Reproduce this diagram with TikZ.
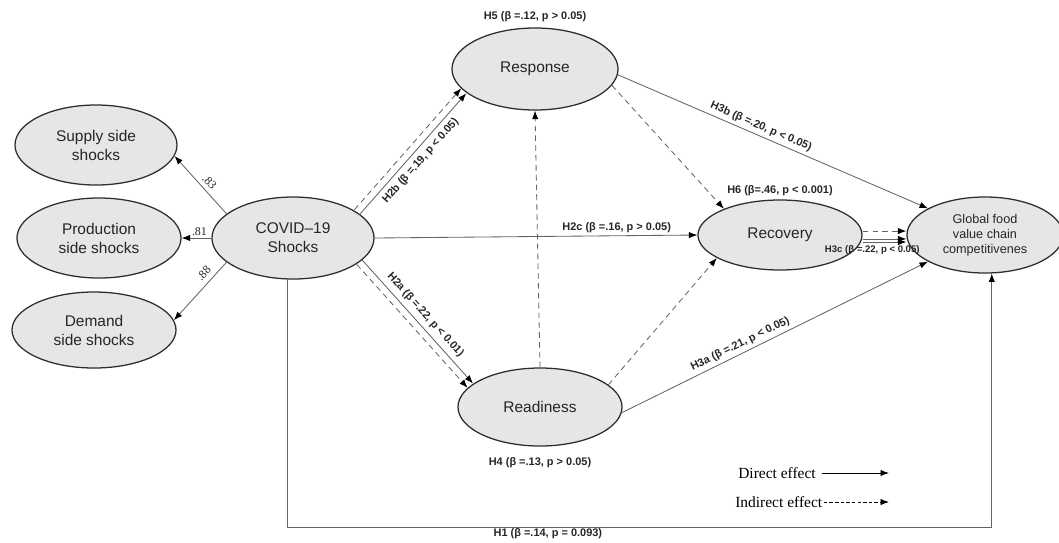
\documentclass[tikz,border=0pt]{standalone}
\usepackage{fontspec}
\setmainfont{Liberation Sans}
\newfontfamily\legendfont{Liberation Serif}
\usetikzlibrary{shapes,arrows.meta,positioning}
\definecolor{ovalfill}{RGB}{230,230,230}
\definecolor{ovaldraw}{RGB}{45,45,45}
\definecolor{pathgray}{RGB}{100,100,100}

\begin{document}
\begin{tikzpicture}[
    x=0.025cm, y=-0.025cm,
    every node/.style={align=center},
    construct/.style={ellipse, draw=ovaldraw, fill=ovalfill, line width=0.9pt, inner sep=0pt, text=black!85, font=\fontsize{11}{13.5}\selectfont},
    hyp/.style={font=\bfseries\fontsize{7.8}{9}\selectfont, inner sep=1.5pt, text=black!85},
    loading/.style={font=\legendfont\fontsize{8.5}{9}\selectfont, inner sep=1.5pt, text=black!85},
    direct/.style={draw=pathgray, line width=0.6pt, -{Latex[length=6pt,width=4.5pt,color=black]}},
    indirect/.style={direct, dash pattern=on 4pt off 3pt},
    legend/.style={font=\legendfont\fontsize{11}{13}\selectfont, inner sep=0pt}
]
\useasboundingbox (0,0) rectangle (1059,542);

% Constructs
\node[construct, minimum width=4.05cm, minimum height=2.05cm] (covid) at (293,238) {COVID–19\\Shocks};
\node[construct, minimum width=4.05cm, minimum height=2cm] (supply) at (96,145) {Supply side\\shocks};
\node[construct, minimum width=4.1cm, minimum height=2cm] (prod) at (99,238) {Production\\side shocks};
\node[construct, minimum width=4.1cm, minimum height=1.9cm] (demand) at (94,330) {Demand\\side shocks};
\node[construct, minimum width=4.15cm, minimum height=2.05cm] (resp) at (535,69) {Response};
\node[construct, minimum width=4.1cm, minimum height=1.95cm] (ready) at (540,407) {Readiness};
\node[construct, minimum width=4.1cm, minimum height=1.75cm] (rec) at (780,235) {Recovery};
\node[construct, minimum width=3.9cm, minimum height=1.9cm, font=\fontsize{9}{10.5}\selectfont] (glob) at (985,235) {Global food\\value chain\\competitivenes};

% Hypothesis labels
\node[hyp, above=2pt of resp] {H5 (β =.12, p > 0.05)};
\node[hyp, above=1pt of rec] {H6 (β=.46, p < 0.001)};
\node[hyp, below=6pt of ready] {H4 (β =.13, p > 0.05)};

% Loadings
\draw[direct] (covid.160) -- node[loading, sloped, above=1.5pt, pos=0.45] {.83} (supply.-8);
\draw[direct] (covid.west) -- node[loading, above, pos=0.4] {.81} (prod.east);
\draw[direct] (covid.200) -- node[loading, sloped, above=2pt, pos=0.3] {.88} (demand.7);

% Paths
\draw[indirect, transform canvas={shift={(-2.5,-2.5)}}] (covid.22) -- (resp.197);
\draw[direct, transform canvas={shift={(2.5,2.5)}}] (covid.22) -- node[hyp, sloped, below=2pt] {H2b (β =.19, p < 0.05)} (resp.197);
\draw[indirect, transform canvas={shift={(-2.7,2.2)}}] (covid.-20) -- (ready.163);
\draw[direct, transform canvas={shift={(2.7,-2.2)}}] (covid.-20) -- node[hyp, sloped, above=2pt] {H2a (β =.22, p < 0.01)} (ready.163);
\draw[direct] (covid.east) -- node[hyp, above, pos=0.75] {H2c (β =.16, p > 0.05)} (rec.west);

\draw[indirect] (ready.north) -- (resp.south);
\draw[indirect] (resp.-12) -- (rec.155);
\draw[indirect] (ready.18) -- (rec.200);

\draw[direct] (resp.-4) -- node[hyp, sloped, above=1pt, pos=0.45] {H3b (β =.20, p < 0.05)} (glob.155);
\draw[direct] (ready.-4) -- node[hyp, sloped, above=1pt, pos=0.4] {H3a (β =.21, p < 0.05)} (glob.205);

\draw[indirect] ([yshift=2.8pt]rec.east) -- ([yshift=2.8pt]glob.west);
\draw[direct] ([yshift=-2.8pt]rec.east) -- ([yshift=-2.8pt]glob.west);
\draw[direct] ([yshift=-5pt]rec.east) -- node[hyp, below=1pt, pos=0.22, font=\bfseries\fontsize{6.8}{8}\selectfont] {H3c (β =.22, p < 0.05)} ([yshift=-5pt]glob.west);

\coordinate (h1turn) at (0,527);
\draw[direct] (covid.262) -- (covid.262 |- h1turn) -- node[hyp, below=1pt, pos=0.37, inner sep=0pt] {H1 (β =.14, p = 0.093)} (glob.280 |- h1turn) -- (glob.280);

% Legend
\node[legend, anchor=west] (ldir) at (738,473) {Direct effect};
\coordinate (ldirtip) at (889,473);
\draw[direct, draw=black] ([xshift=4pt]ldir.east) -- (ldirtip);
\node[legend, anchor=west] (lind) at (735,502) {Indirect effect};
\coordinate (lindtip) at (889,502);
\draw[indirect, draw=black, dash pattern=on 2.5pt off 1.5pt] ([xshift=1pt]lind.east) -- (lindtip);

\end{tikzpicture}
\end{document}
